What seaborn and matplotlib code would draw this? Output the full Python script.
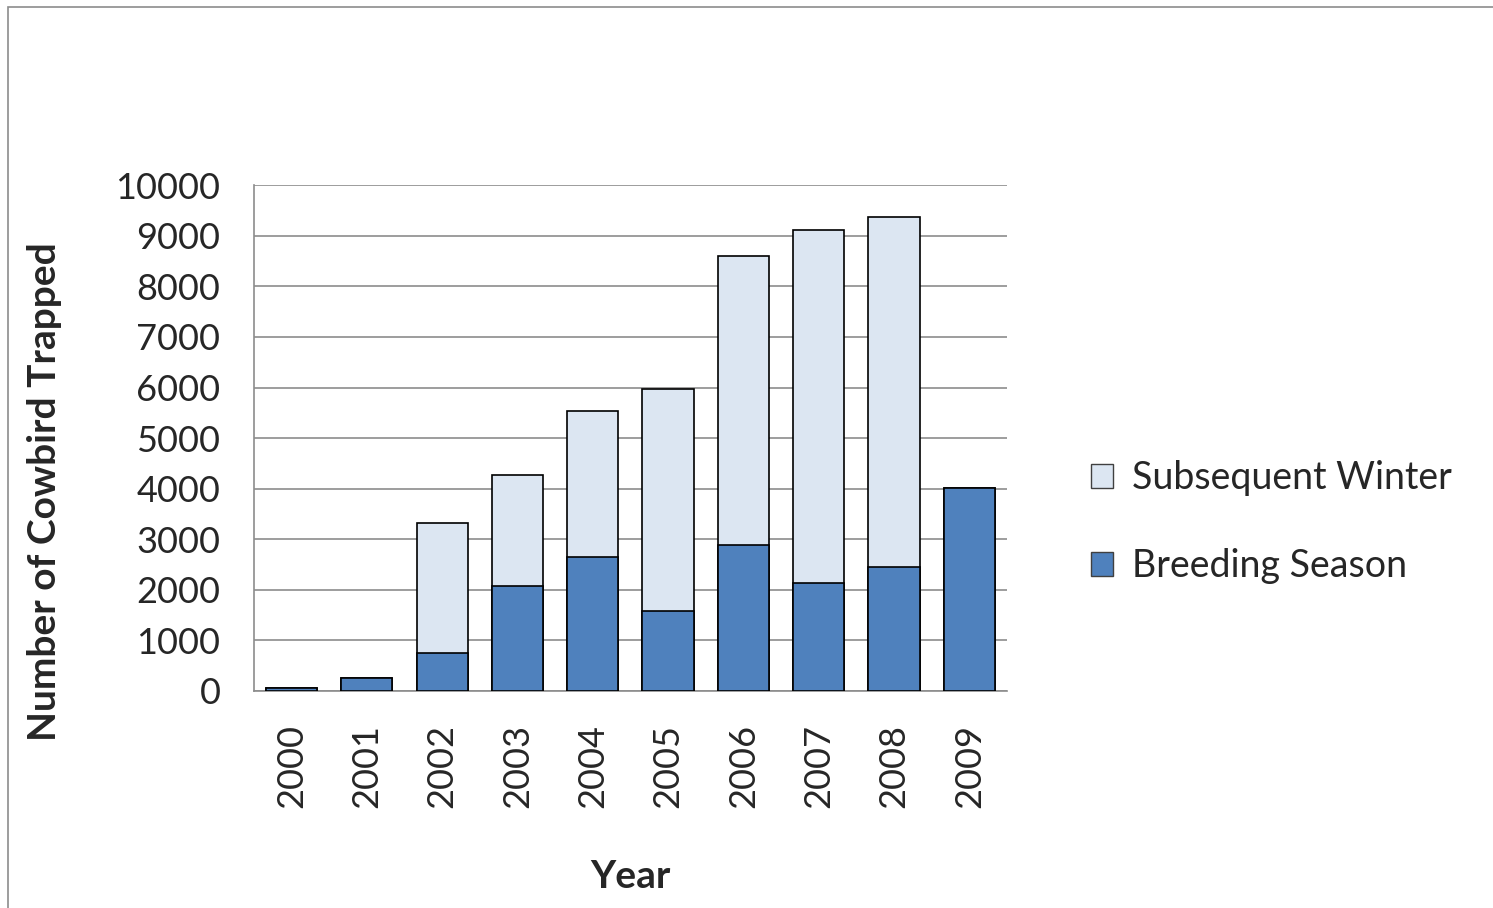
import matplotlib
matplotlib.use("Agg")
import matplotlib.pyplot as plt
import seaborn as sns
import pandas as pd
from matplotlib.patches import Rectangle, Patch

years = ["2000", "2001", "2002", "2003", "2004", "2005", "2006", "2007", "2008", "2009"]
breeding = [60, 250, 757, 2070, 2640, 1575, 2895, 2135, 2450, 4010]
winter = [0, 0, 2570, 2200, 2890, 4395, 5700, 6975, 6920, 0]
yticks = [0, 1000, 2000, 3000, 4000, 5000, 6000, 7000, 8000, 9000, 10000]

BREED_COLOR = "#4F81BD"
WINTER_COLOR = "#DCE6F2"
GRID_COLOR = "#8C8C8C"

sns.set_theme(style="white")
plt.rcParams["font.family"] = ["Lato", "DejaVu Sans"]

df = pd.DataFrame({
    "Year": years,
    "Breeding": breeding,
    "Winter": winter,
})
df["Total"] = df["Breeding"] + df["Winter"]

fig = plt.figure(figsize=(14.93, 9.08), dpi=100)
ax = fig.add_axes([0.170, 0.239, 0.5045, 0.557])

# stacked bars: full height in the winter colour, breeding part drawn over it
sns.barplot(data=df, x="Year", y="Total", color=WINTER_COLOR, width=0.68,
            edgecolor="black", linewidth=1.2, saturation=1, ax=ax, zorder=3)
sns.barplot(data=df, x="Year", y="Breeding", color=BREED_COLOR, width=0.68,
            edgecolor="black", linewidth=1.2, saturation=1, ax=ax, zorder=4)

ax.set_ylim(0, 10000)
ax.set_xlim(-0.5, len(years) - 0.5)
ax.set_yticks(yticks)
ax.set_yticklabels([str(v) for v in yticks], fontsize=26)
ax.set_xticks(range(len(years)))
ax.set_xticklabels(years, rotation=90, fontsize=26)
ax.tick_params(axis="both", length=0)
ax.tick_params(axis="y", pad=24)
ax.tick_params(axis="x", pad=24)

ax.yaxis.grid(True, color=GRID_COLOR, linewidth=1.2)
ax.set_axisbelow(True)
for side in ["top", "right"]:
    ax.spines[side].set_visible(False)
for side in ["left", "bottom"]:
    ax.spines[side].set_color(GRID_COLOR)
    ax.spines[side].set_linewidth(1.2)

ax.set_ylabel("Number of Cowbird Trapped", fontsize=28, fontweight="bold")
ax.yaxis.label.set_va("center")
ax.yaxis.set_label_coords(-0.2776, 0.395)
ax.set_xlabel("Year", fontsize=28, fontweight="bold")
ax.xaxis.label.set_va("center")
ax.xaxis.set_label_coords(0.5, -0.3676)

handles = [Patch(facecolor=WINTER_COLOR, edgecolor="#404040", linewidth=1),
           Patch(facecolor=BREED_COLOR, edgecolor="#404040", linewidth=1)]
leg = fig.legend(handles, ["Subsequent Winter", "Breeding Season"],
                 loc="center left", bbox_to_anchor=(0.708, 0.425),
                 frameon=False, fontsize=27, handlelength=0.6, handleheight=0.6,
                 handletextpad=0.5, labelspacing=1.4)

# outer chart frame
fig.patches.append(Rectangle((8 / 1493, -0.01), 1.05, 1 - 7 / 908 + 0.01,
                             transform=fig.transFigure, fill=False,
                             edgecolor="#8C8C8C", linewidth=1.2))

fig.savefig("out.png", dpi=100, facecolor="white")
